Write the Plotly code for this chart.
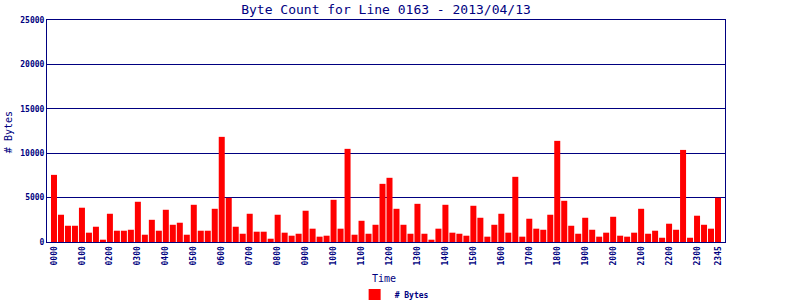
import plotly.graph_objects as go

times = [f"{h:02d}{m:02d}" for h in range(24) for m in (0, 15, 30, 45)]
byte_counts = [
    7560, 3070, 1830, 1830, 3860, 1050, 1720, 260,
    3180, 1270, 1270, 1380, 4530, 820, 2500, 1270,
    3630, 1940, 2170, 820, 4190, 1270, 1270, 3740,
    11840, 4980, 1720, 930, 3180, 1160, 1160, 370,
    3070, 1050, 710, 930, 3520, 1500, 600, 710,
    4750, 1500, 10490, 820, 2390, 930, 1940, 6550,
    7230, 3740, 1940, 930, 4300, 930, 260, 1500,
    4190, 1050, 930, 710, 4080, 2730, 600, 1940,
    3180, 1050, 7340, 600, 2620, 1500, 1380, 3070,
    11390, 4640, 1830, 930, 2730, 1380, 600, 1050,
    2840, 710, 600, 1050, 3740, 930, 1270, 480,
    2060, 1380, 10370, 480, 2960, 1940, 1500, 4980,
]
tick_labels = ["0000", "0100", "0200", "0300", "0400", "0500", "0600", "0700",
               "0800", "0900", "1000", "1100", "1200", "1300", "1400", "1500",
               "1600", "1700", "1800", "1900", "2000", "2100", "2200", "2300", "2345"]
y_ticks = [0, 5000, 10000, 15000, 20000, 25000]
y_tick_text = ["0", "5000", "10000", "15000", "20000", "25000"]

NAVY = "#000080"
MONO = "DejaVu Sans Mono"

fig = go.Figure()
fig.add_trace(go.Bar(
    x=times, y=byte_counts, name="# Bytes",
    marker=dict(color="#FF0000", line=dict(width=0)),
    showlegend=True,
))

fig.update_layout(
    width=800, height=300,
    margin=dict(l=47, r=75, t=20, b=58, autoexpand=False),
    paper_bgcolor="white", plot_bgcolor="white",
    bargap=0.14,
    title=dict(text="Byte Count for Line 0163 - 2013/04/13",
               font=dict(family=MONO, size=13, color=NAVY),
               x=(47 + 725) / 2 / 800, xanchor="center", y=0.967, yanchor="middle"),
    xaxis=dict(
        type="category", range=[-1, 96], automargin=False,
        tickmode="array", tickvals=tick_labels, ticktext=tick_labels,
        tickangle=-90, tickfont=dict(family=MONO, size=8, color=NAVY, weight="bold"),
        showgrid=False, showline=True, linecolor=NAVY, linewidth=1, mirror=True,
        ticks="", zeroline=False,
    ),
    yaxis=dict(
        range=[0, 25000], automargin=False,
        tickmode="array", tickvals=y_ticks, ticktext=y_tick_text,
        tickfont=dict(family=MONO, size=8, color=NAVY, weight="bold"),
        showgrid=True, gridcolor=NAVY, gridwidth=1,
        showline=True, linecolor=NAVY, linewidth=1, mirror=True,
        ticks="", zeroline=False,
    ),
    legend=dict(orientation="h", x=0.512, xanchor="center", yref="paper", y=-0.239, yanchor="middle",
                font=dict(family=MONO, size=8, color=NAVY, weight="bold"),
                itemwidth=30, bgcolor="rgba(0,0,0,0)"),
    annotations=[
        dict(text="Time", xref="paper", yref="paper", x=0.497, y=-0.166,
             xanchor="center", yanchor="middle", showarrow=False,
             font=dict(family=MONO, size=10, color=NAVY)),
        dict(text="# Bytes", xref="paper", yref="paper", x=-0.0575, y=0.495,
             xanchor="center", yanchor="middle", showarrow=False, textangle=-90,
             font=dict(family=MONO, size=10, color=NAVY)),
    ],
)

fig.write_html("out.html")
